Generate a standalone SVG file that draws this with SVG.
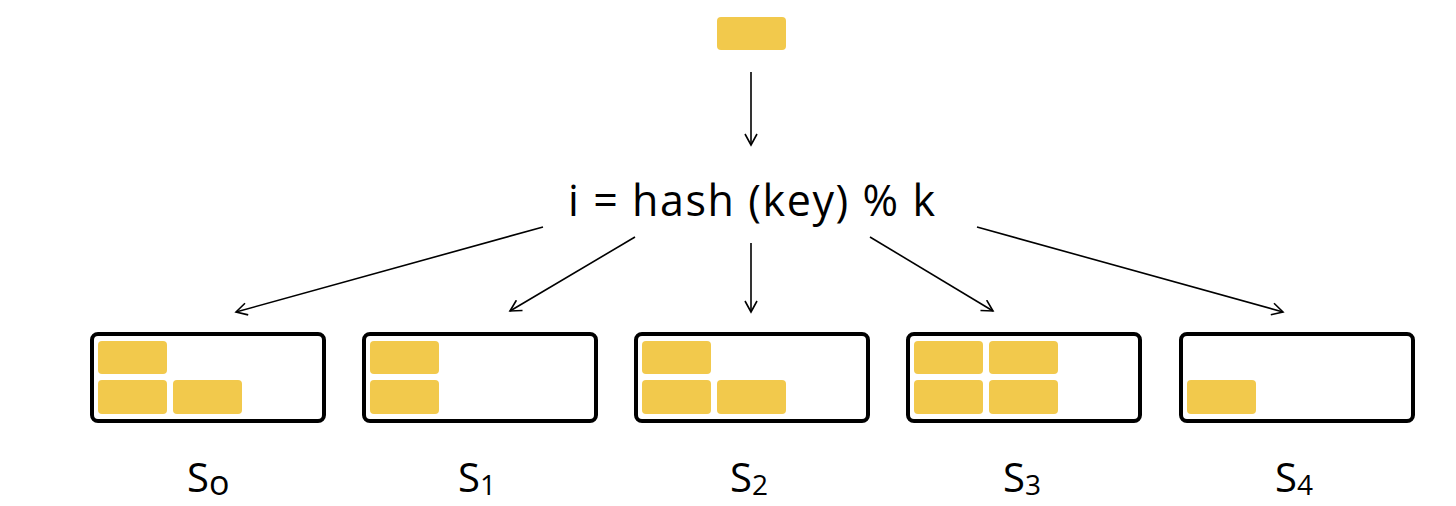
<svg xmlns="http://www.w3.org/2000/svg" width="1456" height="506" viewBox="0 0 1456 506">
<style>
.box{fill:#fff;stroke:#000;stroke-width:4}
.b{fill:#F2C94C}
.c{stroke:#000;stroke-width:1.6;fill:none}
text{font-family:"Open Sans","Liberation Sans",sans-serif;fill:#000}
.s{font-size:40px}
.sub{font-size:28px}
</style>
<defs><marker id="a" markerWidth="14" markerHeight="14" refX="12" refY="7" orient="auto" markerUnits="userSpaceOnUse"><path d="M1,1 L12,7 L1,13" fill="none" stroke="#000" stroke-width="1.6"/></marker></defs>
<rect width="1456" height="506" fill="#fff"/>
<g id="item"><rect class="b" x="717" y="17" width="69" height="33" rx="4"/></g>
<g id="hash"><text x="568" y="216" font-size="43" textLength="367" lengthAdjust="spacing">i = hash (key) % k</text></g>
<g id="connectors">
<line class="c" x1="751" y1="72" x2="751" y2="145" marker-end="url(#a)"/>
<line class="c" x1="543" y1="227" x2="236" y2="312" marker-end="url(#a)"/>
<line class="c" x1="635" y1="237" x2="510" y2="311" marker-end="url(#a)"/>
<line class="c" x1="751" y1="243" x2="751" y2="312" marker-end="url(#a)"/>
<line class="c" x1="870" y1="237" x2="993" y2="311" marker-end="url(#a)"/>
<line class="c" x1="977" y1="227" x2="1283" y2="312" marker-end="url(#a)"/>
</g>
<g id="s0"><rect class="box" x="92" y="334" width="232" height="87" rx="6"/>
<rect class="b" x="98" y="341" width="69" height="33" rx="4"/><rect class="b" x="98" y="380" width="69" height="34" rx="4"/><rect class="b" x="173" y="380" width="69" height="34" rx="4"/>
<text x="187" y="492" class="s">S<tspan font-size="34" dy="3">o</tspan></text></g>
<g id="s1"><rect class="box" x="364" y="334" width="232" height="87" rx="6"/>
<rect class="b" x="370" y="341" width="69" height="33" rx="4"/><rect class="b" x="370" y="380" width="69" height="34" rx="4"/>
<text x="458" y="492" class="s">S<tspan class="sub" dy="3">1</tspan></text></g>
<g id="s2"><rect class="box" x="636" y="334" width="232" height="87" rx="6"/>
<rect class="b" x="642" y="341" width="69" height="33" rx="4"/><rect class="b" x="642" y="380" width="69" height="34" rx="4"/><rect class="b" x="717" y="380" width="69" height="34" rx="4"/>
<text x="730" y="492" class="s">S<tspan class="sub" dy="3">2</tspan></text></g>
<g id="s3"><rect class="box" x="908" y="334" width="232" height="87" rx="6"/>
<rect class="b" x="914" y="341" width="69" height="33" rx="4"/><rect class="b" x="989" y="341" width="69" height="33" rx="4"/><rect class="b" x="914" y="380" width="69" height="34" rx="4"/><rect class="b" x="989" y="380" width="69" height="34" rx="4"/>
<text x="1003" y="492" class="s">S<tspan class="sub" dy="3">3</tspan></text></g>
<g id="s4"><rect class="box" x="1181" y="334" width="232" height="87" rx="6"/>
<rect class="b" x="1187" y="380" width="69" height="34" rx="4"/>
<text x="1275" y="492" class="s">S<tspan class="sub" dy="3">4</tspan></text></g>
</svg>
